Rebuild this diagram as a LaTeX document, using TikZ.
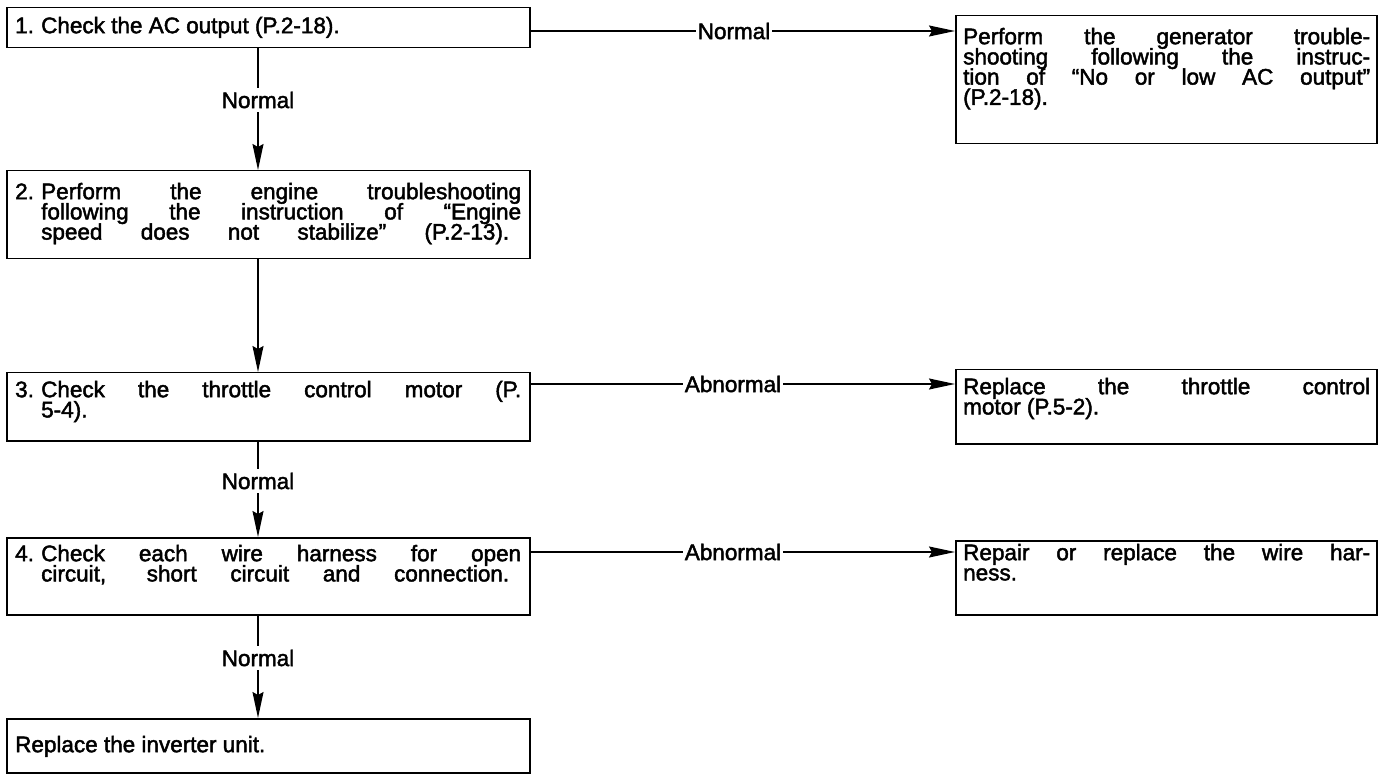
\documentclass[tikz,border=0pt]{standalone}
\usepackage{fontspec}
\setmainfont{Liberation Sans}[FakeBold=2]
\usetikzlibrary{arrows.meta}

% width reserved for the step numbers "1.", "2.", ...
\newlength\numw
\setlength\numw{26pt}
% tight leading of the flow chart texts
\newcommand\tightlines{\baselineskip=20.2pt\lineskiplimit=-100pt\lineskip=0pt}
% strut that fixes the top of every text block 17pt above the first baseline
\newcommand\topstrut{\vrule width 0pt height 17pt depth 0pt\relax}
% numbered paragraph with a hanging indent
\newcommand\stepnum[1]{\tightlines\hangindent=\numw\hangafter=1\noindent\topstrut\makebox[\numw][l]{#1}}
\newcommand\plainpar{\tightlines\noindent\topstrut}
\newcommand\bodyfont{\fontsize{22.5pt}{20.2pt}\selectfont}

\tikzset{
  box/.style={draw, line width=1.5pt, inner sep=0pt, anchor=north west},
  txt/.style={inner sep=0pt, anchor=north west, align=justify, font=\bodyfont},
  lbl/.style={inner xsep=2pt, inner ysep=4pt, font=\bodyfont},
  conn/.style={line width=1.4pt},
  arr/.style={-{Stealth[length=26pt,width=11pt,inset=3pt]}}
}

\begin{document}
\tolerance=10000
\hbadness=10000
\hyphenpenalty=10000
\begin{tikzpicture}[x=1pt,y=-1pt]
\useasboundingbox (0,0) rectangle (1384,775);

% ---- boxes of the main sequence ----
\node[box, minimum width=523pt, minimum height=40pt] (b1) at (6,7) {};
\node[box, minimum width=523pt, minimum height=88pt] (b2) at (6,170) {};
\node[box, minimum width=523pt, minimum height=68pt] (b3) at (6,372) {};
\node[box, minimum width=523pt, minimum height=77pt] (b4) at (6,537) {};
\node[box, minimum width=523pt, minimum height=54pt] (b5) at (6,718) {};

% ---- result boxes on the right ----
\node[box, minimum width=421pt, minimum height=128pt] (r1) at (955,15) {};
\node[box, minimum width=421pt, minimum height=74pt] (r2) at (955,369) {};
\node[box, minimum width=421pt, minimum height=74pt] (r3) at (955,540) {};

% ---- texts ----
\node[txt, text width=506pt] (t1) at (15,16)
  {\stepnum{1.}Check the AC output (P.2-18).\par};
\node[txt, text width=506pt] (t2) at (15,182)
  {\stepnum{2.}Perform the engine troubleshooting\linebreak
   following the instruction of “Engine\linebreak
   speed does not stabilize” (P.2-13).\parfillskip=12pt\par};
\node[txt, text width=506pt] (t3) at (15,380)
  {\stepnum{3.}Check the throttle control motor (P.\linebreak 5-4).\par};
\node[txt, text width=506pt] (t4) at (15,544)
  {\stepnum{4.}Check each wire harness for open\linebreak
   circuit, short circuit and connection.\parfillskip=12pt\par};
\node[txt, text width=506pt] (t5) at (15,735)
  {\plainpar Replace the inverter unit.\par};

\node[txt, text width=407pt] (s1) at (963,27)
  {\plainpar Perform the generator trouble-\linebreak
   shooting following the instruc-\linebreak
   tion of “No or low AC output”\linebreak
   (P.2-18).\par};
\node[txt, text width=407pt] (s2) at (963,377)
  {\plainpar Replace the throttle control\linebreak motor (P.5-2).\par};
\node[txt, text width=407pt] (s3) at (963,543)
  {\plainpar Repair or replace the wire har-\linebreak ness.\par};

% ---- connector labels ----
\node[lbl] (v1) at (258,100) {Normal};
\node[lbl] (v3) at (258,481) {Normal};
\node[lbl] (v4) at (258,658) {Normal};
\node[lbl] (h1) at (734,31) {Normal};
\node[lbl] (h3) at (733,384) {Abnormal};
\node[lbl] (h4) at (733,552) {Abnormal};

% ---- vertical connectors ----
\draw[conn] (v1 |- b1.south) -- (v1.north);
\draw[conn, arr] (v1.south) -- (v1 |- b2.north);
\draw[conn, arr] (v1 |- b2.south) -- (v1 |- b3.north);
\draw[conn] (v3 |- b3.south) -- (v3.north);
\draw[conn, arr] (v3.south) -- (v3 |- b4.north);
\draw[conn] (v4 |- b4.south) -- (v4.north);
\draw[conn, arr] (v4.south) -- (v4 |- b5.north);

% ---- horizontal connectors ----
\draw[conn] (b1.east |- h1) -- (h1.west);
\draw[conn, arr] (h1.east) -- (h1 -| r1.west);
\draw[conn] (b3.east |- h3) -- (h3.west);
\draw[conn, arr] (h3.east) -- (h3 -| r2.west);
\draw[conn] (b4.east |- h4) -- (h4.west);
\draw[conn, arr] (h4.east) -- (h4 -| r3.west);
\end{tikzpicture}
\end{document}
